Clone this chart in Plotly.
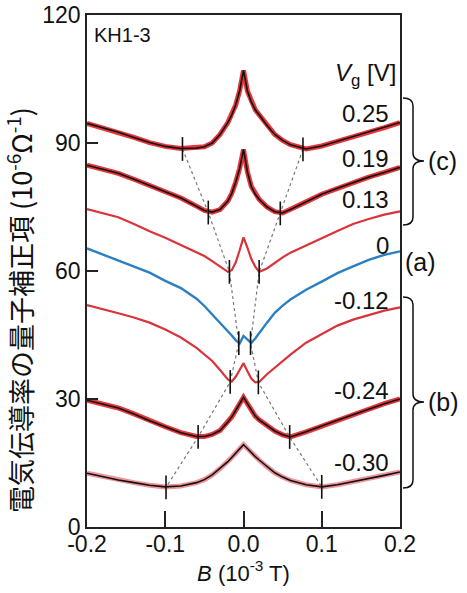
import plotly.graph_objects as go

# ---------------- data ----------------
B = [-0.20, -0.18, -0.16, -0.14, -0.12, -0.10, -0.08, -0.06, -0.05, -0.04, -0.03, -0.02, -0.015, -0.01, -0.005,
     0.0, 0.005, 0.01, 0.015, 0.02, 0.03, 0.04, 0.05, 0.06, 0.08, 0.10, 0.12, 0.14, 0.16, 0.18, 0.20]

g_p025 = [94.6, 93.6, 92.5, 91.3, 90.1, 89.2, 88.7, 88.8, 89.1, 90.0, 92.0, 94.8, 96.6, 98.9, 102.2,
          107.0, 102.2, 99.6, 97.8, 96.6, 94.1, 92.0, 90.6, 89.6, 88.6, 89.3, 90.4, 91.4, 92.5, 93.6, 94.8]
g_p019 = [84.8, 83.9, 82.9, 81.5, 80.1, 78.6, 77.1, 75.2, 74.2, 73.8, 74.4, 76.4, 78.2, 80.8, 84.0,
          88.5, 83.2, 79.8, 78.0, 76.8, 75.0, 73.9, 73.6, 74.4, 76.2, 78.0, 79.4, 80.7, 82.0, 83.1, 84.3]
g_p013 = [74.5, 73.6, 72.6, 71.0, 69.3, 67.8, 66.1, 64.5, 63.5, 62.3, 61.0, 59.8, 60.2, 62.0, 64.8,
          67.9, 65.5, 62.8, 61.0, 59.8, 60.6, 62.0, 63.2, 64.3, 66.0, 67.8, 69.4, 71.0, 72.2, 73.2, 74.0]
g_0 = [65.3, 63.9, 62.5, 61.0, 59.6, 57.7, 56.0, 53.5, 51.8, 49.8, 47.9, 45.8, 44.9, 43.8, 43.0,
       44.8, 44.0, 43.1, 44.2, 45.5, 47.9, 50.2, 51.9, 53.3, 55.6, 57.5, 59.5, 61.1, 62.6, 63.8, 64.6]
g_m012 = [52.0, 51.1, 50.1, 49.1, 47.9, 46.3, 44.4, 42.0, 40.5, 38.9, 36.8, 34.6, 34.1, 35.2, 36.8,
          38.4, 36.5, 34.8, 33.9, 34.0, 35.8, 37.4, 39.0, 40.4, 43.2, 45.3, 47.2, 48.6, 49.7, 50.7, 51.5]
g_m024 = [29.7, 28.8, 27.9, 26.5, 24.9, 23.5, 22.1, 21.2, 21.2, 21.7, 22.6, 24.6, 25.8, 27.3, 28.8,
          30.4, 28.9, 27.3, 26.0, 25.1, 23.7, 22.5, 21.6, 21.1, 22.3, 23.7, 25.0, 26.3, 27.6, 28.9, 30.0]
g_m030 = [12.6, 11.8, 11.0, 10.4, 9.8, 9.4, 9.6, 10.4, 11.1, 12.2, 13.7, 15.3, 16.3, 17.3, 18.3,
          19.3, 18.4, 17.4, 16.5, 15.7, 14.1, 12.7, 11.7, 10.9, 9.9, 9.4, 9.9, 10.6, 11.3, 12.1, 12.9]

# minima positions (from top curve to bottom curve)
min_left_B = [-0.078, -0.045, -0.018, -0.006, -0.017, -0.058, -0.099]
min_left_g = [88.6, 73.7, 59.8, 43.1, 34.0, 21.1, 9.3]
min_right_B = [0.076, 0.047, 0.020, 0.009, 0.019, 0.059, 0.100]
min_right_g = [88.5, 73.5, 59.8, 43.1, 33.9, 21.1, 9.4]

vg_labels = ["0.25", "0.19", "0.13", "0", "-0.12", "-0.24", "-0.30"]
vg_label_y = [97.0, 86.4, 76.8, 66.0, 53.2, 32.1, 15.2]

x_ticks = [-0.2, -0.1, 0.0, 0.1, 0.2]
x_ticktext = ["-0.2", "-0.1", "0.0", "0.1", "0.2"]
y_ticks = [0, 30, 60, 90, 120]

# ---------------- figure ----------------
RED = "rgba(226,32,38,0.9)"
fig = go.Figure()

fitted = [g_p025, g_p019, g_m024]
for g in fitted:
    fig.add_trace(go.Scatter(x=B, y=g, mode="lines", line=dict(color=RED, width=5), hoverinfo="skip"))
    fig.add_trace(go.Scatter(x=B, y=g, mode="lines", line=dict(color="#111111", width=1.6), hoverinfo="skip"))

fig.add_trace(go.Scatter(x=B, y=g_m030, mode="lines", line=dict(color="rgba(226,60,70,0.55)", width=5), hoverinfo="skip"))
fig.add_trace(go.Scatter(x=B, y=g_m030, mode="lines", line=dict(color="#111111", width=1.6), hoverinfo="skip"))

for g in [g_p013, g_m012]:
    fig.add_trace(go.Scatter(x=B, y=g, mode="lines", line=dict(color="#d9343c", width=2.2), hoverinfo="skip"))
fig.add_trace(go.Scatter(x=B, y=g_0, mode="lines", line=dict(color="#2c7fc0", width=2.4), hoverinfo="skip"))

for xb, yg in [(min_left_B, min_left_g), (min_right_B, min_right_g)]:
    fig.add_trace(go.Scatter(x=xb, y=yg, mode="lines", line=dict(color="#777777", width=1.2, dash="dot"),
                             hoverinfo="skip"))
    fig.add_trace(go.Scatter(x=xb, y=yg, mode="markers",
                             marker=dict(symbol="line-ns", size=17, line=dict(color="#111111", width=1.6)),
                             hoverinfo="skip"))

L, T, W, H = 87, 15, 313, 512


def px(xp):
    return (xp - L) / W


def py(yp):
    return (T + H - yp) / H


annotations = []
for t, yv in zip(vg_labels, vg_label_y):
    annotations.append(dict(x=0.188, y=yv, xref="x", yref="y", text=t, showarrow=False,
                            xanchor="right", yanchor="middle", font=dict(size=24, color="#111111")))
annotations.append(dict(x=0.197, y=106.0, xref="x", yref="y", text="<i>V</i><sub>g</sub> [V]", showarrow=False,
                        xanchor="right", yanchor="middle", font=dict(size=24, color="#111111")))
annotations.append(dict(x=-0.193, y=115.3, xref="x", yref="y", text="KH1-3", showarrow=False,
                        xanchor="left", yanchor="middle", font=dict(size=20, color="#111111")))

for txt, xp, yp in [("(c)", 426, 161), ("(a)", 403, 262), ("(b)", 426, 402)]:
    annotations.append(dict(x=px(xp), y=py(yp), xref="paper", yref="paper", text=txt, showarrow=False,
                            xanchor="left", yanchor="middle", font=dict(size=25, color="#111111")))

annotations.append(dict(x=px(19), y=py(310), xref="paper", yref="paper", textangle=-90,
                        text="電気伝導率の量子補正項 (10<sup>-6</sup>Ω<sup>-1</sup>)", showarrow=False,
                        xanchor="center", yanchor="middle",
                        font=dict(size=27, color="#111111", family="Noto Sans CJK JP, sans-serif")))


def brace(ytop, ymid, ybot, x0=403, x1=413, x2=424):
    r = 8
    pts = [
        f"M {px(x0)},{py(ytop)}",
        f"Q {px(x1)},{py(ytop)} {px(x1)},{py(ytop + r)}",
        f"L {px(x1)},{py(ymid - r)}",
        f"Q {px(x1)},{py(ymid)} {px(x2)},{py(ymid)}",
        f"Q {px(x1)},{py(ymid)} {px(x1)},{py(ymid + r)}",
        f"L {px(x1)},{py(ybot - r)}",
        f"Q {px(x1)},{py(ybot)} {px(x0)},{py(ybot)}",
    ]
    return dict(type="path", path=" ".join(pts), xref="paper", yref="paper",
                line=dict(color="#111111", width=1.5))


shapes = [brace(98, 161, 225), brace(297, 402, 488)]

fig.update_layout(
    width=467, height=593,
    margin=dict(l=L, r=467 - L - W, t=T, b=593 - T - H, autoexpand=False),
    paper_bgcolor="white", plot_bgcolor="white",
    showlegend=False,
    font=dict(family="Arial, Liberation Sans, Noto Sans CJK JP, sans-serif", color="#111111"),
    annotations=annotations,
    shapes=shapes,
    xaxis=dict(range=[-0.2, 0.2], tickvals=x_ticks, ticktext=x_ticktext, ticks="inside", ticklen=16,
               tickwidth=1.5, tickcolor="#222222", showline=True, linecolor="#222222", linewidth=1.5,
               mirror=True, showgrid=False, zeroline=False, tickfont=dict(size=23, color="#111111"),
               automargin=False, ticklabelstandoff=-4,
               title=dict(text="<i>B</i> (10<sup>-3</sup> T)", font=dict(size=22, color="#111111"), standoff=2)),
    yaxis=dict(range=[0, 120], tickvals=y_ticks, ticks="inside", ticklen=11,
               tickwidth=1.5, tickcolor="#222222", showline=True, linecolor="#222222", linewidth=1.5,
               mirror=True, showgrid=False, zeroline=False, tickfont=dict(size=23, color="#111111"),
               automargin=False),
)

fig.write_html("out.html", config={"displayModeBar": False},
               post_script="document.body.style.margin='0px';document.body.style.overflow='hidden';")
